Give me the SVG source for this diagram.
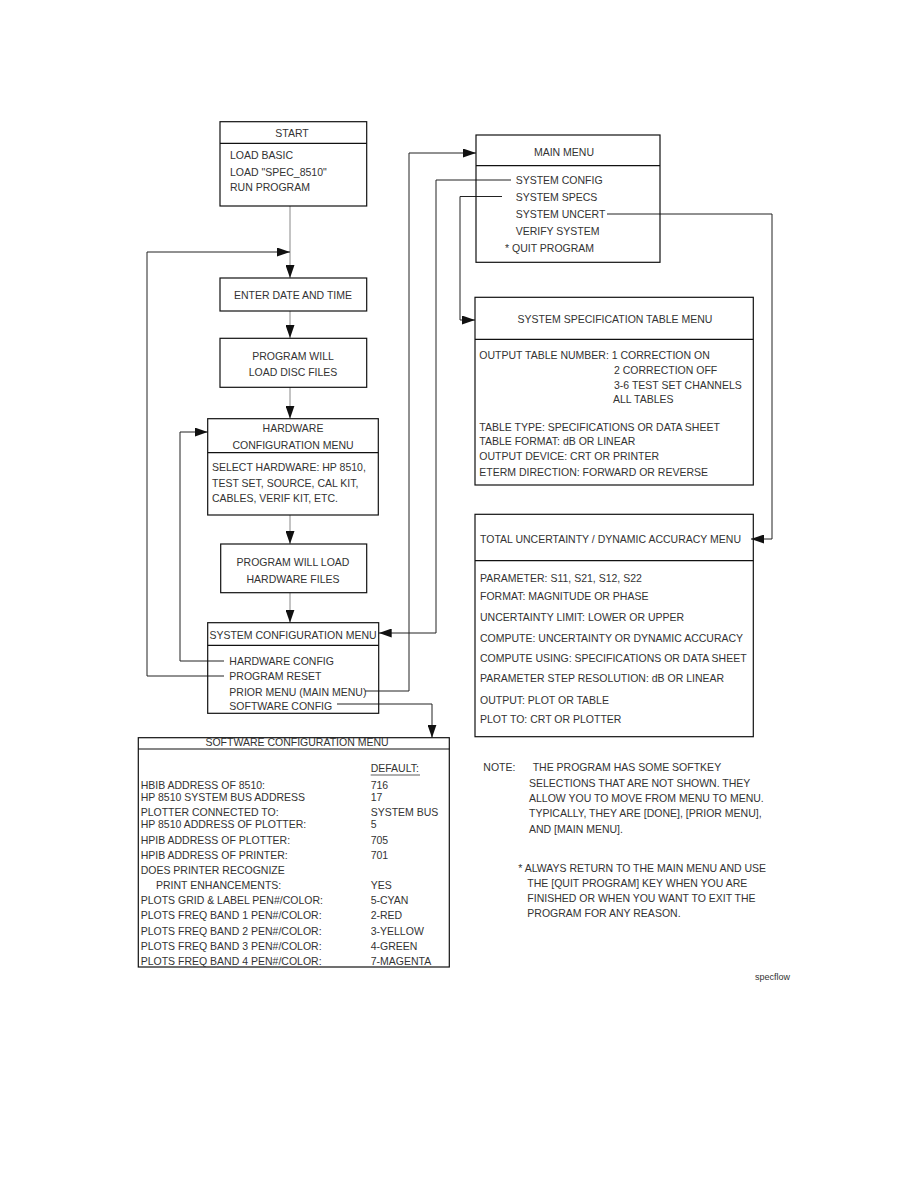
<svg xmlns="http://www.w3.org/2000/svg" width="914" height="1186" viewBox="0 0 914 1186">
<style>
text{font-family:"Liberation Sans",Arial,sans-serif;font-size:10.5px;fill:#333}
.c{text-anchor:middle}
.box{fill:none;stroke:#111;stroke-width:1.2}
.div{stroke:#111;stroke-width:1.2}
.con{fill:none;stroke:#222;stroke-width:1}
.g{stroke:#888}
.sm{font-size:9px}
</style>
<defs>
<marker id="ah" viewBox="0 0 13 9" refX="13" refY="4.5" markerWidth="13" markerHeight="9" markerUnits="userSpaceOnUse" orient="auto">
<path d="M0,0 L13,4.5 L0,9 z" fill="#111"/>
</marker>
</defs>
<rect width="914" height="1186" fill="#fff"/>

<g id="connectors">
<path class="con g" d="M290,206 V278" marker-end="url(#ah)"/>
<path class="con" d="M224,676 H147 V252 H290" marker-end="url(#ah)"/>
<path class="con g" d="M290,311 V338" marker-end="url(#ah)"/>
<path class="con g" d="M290,387 V418.7" marker-end="url(#ah)"/>
<path class="con" d="M224,661 H180 V432 H207.7" marker-end="url(#ah)"/>
<path class="con g" d="M290,515 V544" marker-end="url(#ah)"/>
<path class="con g" d="M290,593 V622.7" marker-end="url(#ah)"/>
<path class="con" d="M365,691 H409 V153 H476" marker-end="url(#ah)"/>
<path class="con" d="M511,180 H436 V633 H378.7" marker-end="url(#ah)"/>
<path class="con" d="M502,196.5 H460 V320 H475" marker-end="url(#ah)"/>
<path class="con" d="M607,214 H772 V539 H751" marker-end="url(#ah)"/>
<path class="con" d="M337,704 H432 V737.7" marker-end="url(#ah)"/>
</g>

<g id="start">
<rect class="box" x="220" y="121.7" width="146.7" height="84.3"/>
<line class="div" x1="220" y1="143.3" x2="366.7" y2="143.3"/>
<text class="c" x="292" y="137">START</text>
<text x="230" y="159">LOAD BASIC</text>
<text x="230" y="175.7">LOAD "SPEC_8510"</text>
<text x="230" y="190.7">RUN PROGRAM</text>
</g>

<g id="enter-date">
<rect class="box" x="220" y="278" width="146.7" height="33"/>
<text class="c" x="293" y="298.5">ENTER DATE AND TIME</text>
</g>

<g id="load-disc">
<rect class="box" x="220" y="338.3" width="146.7" height="49"/>
<text class="c" x="293" y="359.7">PROGRAM WILL</text>
<text class="c" x="293" y="376.3">LOAD DISC FILES</text>
</g>

<g id="hardware-menu">
<rect class="box" x="207.7" y="418.7" width="170.6" height="96.3"/>
<line class="div" x1="207.7" y1="452.7" x2="378.3" y2="452.7"/>
<text class="c" x="293" y="432">HARDWARE</text>
<text class="c" x="293" y="449">CONFIGURATION MENU</text>
<text x="212" y="471.3">SELECT HARDWARE: HP 8510,</text>
<text x="212" y="487.3">TEST SET, SOURCE, CAL KIT,</text>
<text x="212" y="502.3">CABLES, VERIF KIT, ETC.</text>
</g>

<g id="load-hardware">
<rect class="box" x="220.7" y="544" width="146" height="48.7"/>
<text class="c" x="293" y="565.7">PROGRAM WILL LOAD</text>
<text class="c" x="293" y="583">HARDWARE FILES</text>
</g>

<g id="system-config-menu">
<rect class="box" x="207.7" y="622.7" width="171" height="90.6"/>
<line class="div" x1="207.7" y1="645.3" x2="378.7" y2="645.3"/>
<text class="c" x="293" y="639">SYSTEM CONFIGURATION MENU</text>
<text x="229.3" y="664.7">HARDWARE CONFIG</text>
<text x="229.3" y="680">PROGRAM RESET</text>
<text x="229.3" y="695.7">PRIOR MENU (MAIN MENU)</text>
<text x="229.3" y="710">SOFTWARE CONFIG</text>
</g>

<g id="main-menu">
<rect class="box" x="476" y="135" width="184" height="127.3"/>
<line class="div" x1="476" y1="165.7" x2="660" y2="165.7"/>
<text class="c" x="564" y="156.3">MAIN MENU</text>
<text x="515.7" y="184">SYSTEM CONFIG</text>
<text x="515.7" y="201.3">SYSTEM SPECS</text>
<text x="515.7" y="218">SYSTEM UNCERT</text>
<text x="515.7" y="235">VERIFY SYSTEM</text>
<text x="505" y="252.3">* QUIT PROGRAM</text>
</g>

<g id="spec-table-menu">
<rect class="box" x="475" y="297.3" width="278.3" height="187.7"/>
<line class="div" x1="475" y1="339.3" x2="753.3" y2="339.3"/>
<text class="c" x="615" y="323.3">SYSTEM SPECIFICATION TABLE MENU</text>
<text x="479.3" y="359">OUTPUT TABLE NUMBER: 1 CORRECTION ON</text>
<text x="614" y="374">2 CORRECTION OFF</text>
<text x="614" y="389">3-6 TEST SET CHANNELS</text>
<text x="613" y="403.3">ALL TABLES</text>
<text x="479.3" y="430.7">TABLE TYPE: SPECIFICATIONS OR DATA SHEET</text>
<text x="479.3" y="445">TABLE FORMAT: dB OR LINEAR</text>
<text x="479.3" y="460">OUTPUT DEVICE: CRT OR PRINTER</text>
<text x="479.3" y="475.7">ETERM DIRECTION: FORWARD OR REVERSE</text>
</g>

<g id="uncertainty-menu">
<rect class="box" x="475" y="514.3" width="278.3" height="222.4"/>
<line class="div" x1="475" y1="560.7" x2="753.3" y2="560.7"/>
<text x="480" y="543.3">TOTAL UNCERTAINTY / DYNAMIC ACCURACY MENU</text>
<text x="480" y="581.7">PARAMETER: S11, S21, S12, S22</text>
<text x="480" y="599.7">FORMAT: MAGNITUDE OR PHASE</text>
<text x="480" y="620.7">UNCERTAINTY LIMIT: LOWER OR UPPER</text>
<text x="480" y="641.7">COMPUTE: UNCERTAINTY OR DYNAMIC ACCURACY</text>
<text x="480" y="662.3">COMPUTE USING: SPECIFICATIONS OR DATA SHEET</text>
<text x="480" y="682.3">PARAMETER STEP RESOLUTION: dB OR LINEAR</text>
<text x="480" y="704">OUTPUT: PLOT OR TABLE</text>
<text x="480" y="723">PLOT TO: CRT OR PLOTTER</text>
</g>

<g id="software-menu">
<rect class="box" x="138.3" y="737.7" width="311" height="229.3"/>
<line class="div" x1="138.3" y1="749" x2="449.3" y2="749"/>
<text class="c" x="297" y="746">SOFTWARE CONFIGURATION MENU</text>
<text x="370.7" y="772.3">DEFAULT:</text>
<line x1="370.7" y1="775" x2="420" y2="775" stroke="#333" stroke-width="0.8"/>
<text x="140.7" y="789">HBIB ADDRESS OF 8510:</text><text x="370.7" y="789">716</text>
<text x="140.7" y="801.3">HP 8510 SYSTEM BUS ADDRESS</text><text x="370.7" y="801.3">17</text>
<text x="140.7" y="816.3">PLOTTER CONNECTED TO:</text><text x="370.7" y="816.3">SYSTEM BUS</text>
<text x="140.7" y="828">HP 8510 ADDRESS OF PLOTTER:</text><text x="370.7" y="828">5</text>
<text x="140.7" y="844">HPIB ADDRESS OF PLOTTER:</text><text x="370.7" y="844">705</text>
<text x="140.7" y="859">HPIB ADDRESS OF PRINTER:</text><text x="370.7" y="859">701</text>
<text x="140.7" y="874">DOES PRINTER RECOGNIZE</text>
<text x="156" y="889">PRINT ENHANCEMENTS:</text><text x="370.7" y="889">YES</text>
<text x="140.7" y="904">PLOTS GRID &amp; LABEL PEN#/COLOR:</text><text x="370.7" y="904">5-CYAN</text>
<text x="140.7" y="919">PLOTS FREQ BAND 1 PEN#/COLOR:</text><text x="370.7" y="919">2-RED</text>
<text x="140.7" y="934.7">PLOTS FREQ BAND 2 PEN#/COLOR:</text><text x="370.7" y="934.7">3-YELLOW</text>
<text x="140.7" y="949.7">PLOTS FREQ BAND 3 PEN#/COLOR:</text><text x="370.7" y="949.7">4-GREEN</text>
<text x="140.7" y="965">PLOTS FREQ BAND 4 PEN#/COLOR:</text><text x="370.7" y="965">7-MAGENTA</text>
</g>

<g id="note">
<text x="483.3" y="770.7">NOTE:</text>
<text x="532.7" y="770.7">THE PROGRAM HAS SOME SOFTKEY</text>
<text x="529" y="787.3">SELECTIONS THAT ARE NOT SHOWN. THEY</text>
<text x="529" y="802.3">ALLOW YOU TO MOVE FROM MENU TO MENU.</text>
<text x="529" y="817.3">TYPICALLY, THEY ARE [DONE], [PRIOR MENU],</text>
<text x="529" y="833.3">AND [MAIN MENU].</text>
<text x="518.3" y="872.3">* ALWAYS RETURN TO THE MAIN MENU AND USE</text>
<text x="527.3" y="887.3">THE [QUIT PROGRAM] KEY WHEN YOU ARE</text>
<text x="527.3" y="902.3">FINISHED OR WHEN YOU WANT TO EXIT THE</text>
<text x="527.3" y="917.3">PROGRAM FOR ANY REASON.</text>
</g>

<g id="label">
<text class="sm" x="755" y="980">specflow</text>
</g>
</svg>
